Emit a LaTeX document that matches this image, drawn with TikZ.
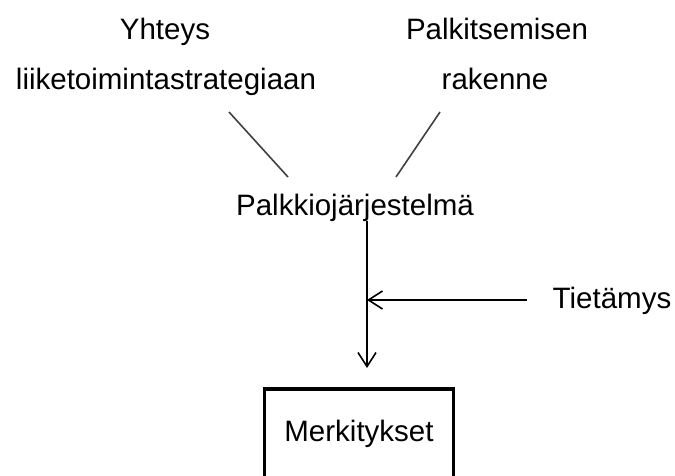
\documentclass[tikz,border=0pt]{standalone}
\usepackage{fontspec}
\setmainfont{Liberation Sans}
\usepackage{tikz}
\usetikzlibrary{arrows.meta}

\begin{document}
\begin{tikzpicture}[
    x=1pt,y=-1pt,
    font=\fontsize{29.5}{35}\selectfont,
    label/.style={inner sep=0pt,anchor=base},
    result/.style={draw,line width=3.5pt,inner xsep=20pt,inner ysep=31pt,text depth=40pt,anchor=north},
    link/.style={draw=black!75,line width=1.6pt},
    arrow/.style={-{Straight Barb[length=14pt,width=18pt,line width=1.6pt]},line width=1.6pt}
]
\useasboundingbox (0,0) rectangle (675,476);
\clip (0,0) rectangle (675,476);

\node[label] (yhteys) at (165,40) {Yhteys};
\node[label] (strategia) at (166,90) {liiketoimintastrategiaan};
\node[label] (palkitse) at (497,40) {Palkitsemisen};
\node[label] (rakenne) at (495,90) {rakenne};
\node[label] (palkkio) at (355,215) {Palkkiojärjestelmä};
\node[label] (tieto) at (612,308) {Tietämys};
\node[result] (merkit) at (359,387) {Merkitykset};

\coordinate (vasen) at (229,112);
\coordinate (oikea) at (440,112);
\coordinate (vasenala) at (288,177);
\coordinate (oikeaala) at (396,177);
\coordinate (liitos) at (367,300);

\draw[link] (vasen) -- (vasenala);
\draw[link] (oikea) -- (oikeaala);
\draw[arrow,shorten >=19pt] (palkkio.south -| liitos) -- (merkit.north -| liitos);
\draw[arrow,shorten <=26pt] (tieto.west |- liitos) -- (liitos);
\end{tikzpicture}
\end{document}
